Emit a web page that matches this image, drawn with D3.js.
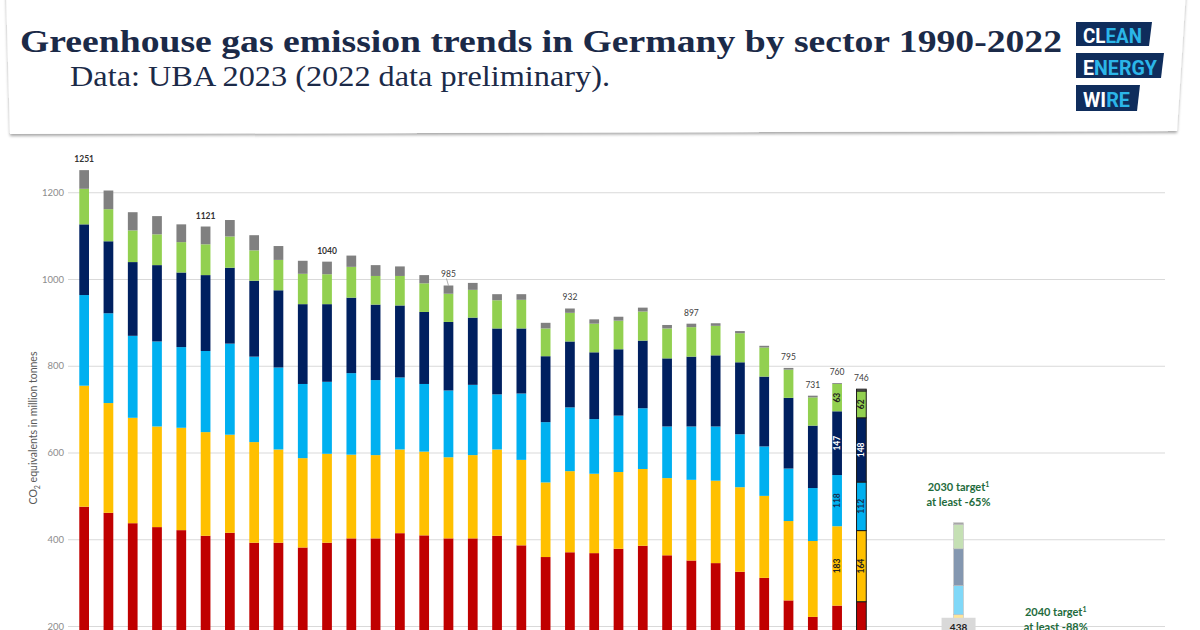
<!DOCTYPE html>
<html>
<head>
<meta charset="utf-8">
<script src="https://cdn.jsdelivr.net/npm/d3@7"></script>
<style>
  body { margin: 0; background: #fff; }
  svg { display: block; font-family: Lato, "Open Sans", sans-serif; }
</style>
</head>
<body>
<script>
// emissions in million tonnes CO2 equivalents, UBA 2023
var years = ["1990","1991","1992","1993","1994","1995","1996","1997","1998","1999","2000",
  "2001","2002","2003","2004","2005","2006","2007","2008","2009","2010","2011","2012",
  "2013","2014","2015","2016","2017","2018","2019","2020","2021","2022"]
var energy      = [475,461,437,428,421,408,415,392,392,381,392,402,402,414,409,402,402,408,386,359,370,368,378,385,363,351,345,325,311,259,221,247,256]
var industry    = [279,253,243,232,236,239,226,232,215,206,205,193,192,193,193,187,192,199,197,172,187,183,177,177,178,186,190,195,189,183,175,183,164]
var buildings   = [209,207,189,196,186,187,210,197,189,171,166,188,173,166,156,154,162,127,153,139,147,126,130,140,119,123,125,122,114,121,122,118,112]
var transport   = [163,166,170,176,172,175,175,175,178,184,179,174,174,166,166,158,155,152,150,152,152,154,153,156,157,161,164,166,161,163,144,147,148]
var agriculture = [82,74,73,71,70,71,72,70,70,70,69,71,66,68,66,65,64,65,66,64,66,66,66,67,69,68,68,67,67,65,65,63,62]
var waste       = [43,43,42,42,41,41,38,35,32,30,29,26,25,22,19,19,16,14,13,13,10,10,9,9,8,8,6,5,4,4,4,2,4]

// sector targets (Climate Protection Act)
var target2030 = [108,118,67,85,56,4]
var target2040 = 150

// x slots: years, then gaps and target years
var slots = years.concat(["","","","2030","","","","2040","","","","2045"])
var yTicks = [200,400,600,800,1000,1200]
var totalLabelYears = ["1990","1995","2000","2005","2010","2015","2019","2020","2021","2022"]
var boldTotalYears = ["1990","1995","2000"]
var segmentLabelYears = ["2021","2022"]

var keys = ["energy","industry","buildings","transport","agriculture","waste"]
var colors = {
  energy: "#C00000", industry: "#FFC000", buildings: "#00B0F0",
  transport: "#002060", agriculture: "#92D050", waste: "#808080"
}
var targetColors = {
  energy: "#E08080", industry: "#FFE699", buildings: "#80D8F8",
  transport: "#8497B0", agriculture: "#C5E0B4", waste: "#A6A6A6"
}

var svg = d3.select("body").append("svg")
  .attr("width", 1200)
  .attr("height", 630)

var defs = svg.append("defs")
var shadow = defs.append("filter").attr("id", "shadow")
  .attr("x", "-5%").attr("y", "-20%").attr("width", "110%").attr("height", "150%")
shadow.append("feDropShadow")
  .attr("dx", 0).attr("dy", 2).attr("stdDeviation", 1.6)
  .attr("flood-color", "#000").attr("flood-opacity", 0.35)

svg.append("rect").attr("width", 1200).attr("height", 630).attr("fill", "#fff")

// header card
svg.append("polygon")
  .attr("points", "6,-10 1186,-10 1177,131 10,134")
  .attr("fill", "#fff")
  .attr("filter", "url(#shadow)")

svg.append("text")
  .attr("x", 20).attr("y", 52)
  .attr("font-family", "'Liberation Serif', 'DejaVu Serif', serif")
  .attr("font-weight", "bold")
  .attr("font-size", 32)
  .attr("fill", "#1b2a48")
  .attr("textLength", 1042)
  .attr("lengthAdjust", "spacingAndGlyphs")
  .text("Greenhouse gas emission trends in Germany by sector 1990-2022")

svg.append("text")
  .attr("x", 70).attr("y", 86)
  .attr("font-family", "'Liberation Serif', 'DejaVu Serif', serif")
  .attr("font-size", 29)
  .attr("fill", "#1b2a48")
  .attr("textLength", 540)
  .attr("lengthAdjust", "spacingAndGlyphs")
  .text("Data: UBA 2023 (2022 data preliminary).")

// logo
var logo = [
  { pts: "1076,22 1152,22 1149,46 1076,46", y: 43, w: 59, a: "CL", b: "EAN" },
  { pts: "1076,53 1164,53 1161,78 1076,78", y: 75, w: 74, a: "E", b: "NERGY" },
  { pts: "1076,85 1140,85 1137,111 1076,111", y: 107, w: 47, a: "WI", b: "RE" }
]
var logoG = svg.append("g")
logoG.selectAll("polygon").data(logo).join("polygon")
  .attr("points", function(d) { return d.pts })
  .attr("fill", "#0f2d5c")
var logoText = logoG.selectAll("text").data(logo).join("text")
  .attr("x", 1083)
  .attr("y", function(d) { return d.y })
  .attr("font-family", "Roboto, 'Open Sans', sans-serif")
  .attr("font-weight", "bold")
  .attr("font-size", 20)
  .attr("textLength", function(d) { return d.w })
  .attr("lengthAdjust", "spacingAndGlyphs")
logoText.append("tspan").attr("fill", "#fff").text(function(d) { return d.a })
logoText.append("tspan").attr("fill", "#2bb5e8").text(function(d) { return d.b })

// scales
var x = d3.scaleBand()
  .domain(d3.range(slots.length))
  .range([72, 1165])
  .paddingInner(0.6)
  .paddingOuter(0.3)

var y = d3.scaleLinear()
  .domain([0, 1200])
  .range([712.75, 192.25])

// y axis with gridlines
var yAxis = svg.append("g")
  .attr("transform", "translate(68,0)")
  .call(d3.axisLeft(y).tickValues(yTicks).tickSize(-(1165 - 68)).tickPadding(4).tickFormat(d3.format("d")))
yAxis.select(".domain").remove()
yAxis.selectAll(".tick line").attr("stroke", "#d9d9d9").attr("stroke-width", 1.2)
yAxis.selectAll(".tick text")
  .attr("fill", "#8c8c8c")
  .attr("font-size", 9.5)
  .attr("font-family", "Lato, sans-serif")

svg.append("text")
  .attr("transform", "translate(37,428) rotate(-90)")
  .attr("text-anchor", "middle")
  .attr("font-size", 10.5)
  .attr("fill", "#595959")
  .call(function(t) {
    t.append("tspan").text("CO")
    t.append("tspan").attr("font-size", 7).attr("dy", 2.5).text("2")
    t.append("tspan").attr("dy", -2.5).text(" equivalents in million tonnes")
  })

// stacked bars
var rows = years.map(function(yr, i) {
  return {
    slot: i, year: yr,
    energy: energy[i], industry: industry[i], buildings: buildings[i],
    transport: transport[i], agriculture: agriculture[i], waste: waste[i]
  }
})
var series = d3.stack().keys(keys)(rows)

svg.append("g").selectAll("g.sector")
  .data(series)
  .join("g")
    .attr("class", "sector")
    .attr("fill", function(d) { return colors[d.key] })
  .selectAll("rect")
  .data(function(d) { return d })
  .join("rect")
    .attr("x", function(d) { return x(d.data.slot) })
    .attr("y", function(d) { return y(d[1]) })
    .attr("width", x.bandwidth())
    .attr("height", function(d) { return y(d[0]) - y(d[1]) })
    .attr("stroke", function(d) { return d.data.year === "2022" ? "#1a1a1a" : null })
    .attr("stroke-width", 1)

// 2030 target bar
var targetRow = { slot: slots.indexOf("2030") }
keys.forEach(function(k, i) { targetRow[k] = target2030[i] })
var targetSeries = d3.stack().keys(keys)([targetRow])
svg.append("g").selectAll("rect")
  .data(targetSeries)
  .join("rect")
    .attr("fill", function(d) { return targetColors[d.key] })
    .attr("x", function(d) { return x(d[0].data.slot) })
    .attr("y", function(d) { return y(d[0][1]) })
    .attr("width", x.bandwidth())
    .attr("height", function(d) { return y(d[0][0]) - y(d[0][1]) })
    .attr("stroke", "#bfbfbf")
    .attr("stroke-width", 0.6)

// 2040 target bar
var slot2040 = slots.indexOf("2040")
svg.append("rect")
  .attr("x", x(slot2040))
  .attr("y", y(target2040))
  .attr("width", x.bandwidth())
  .attr("height", y(0) - y(target2040))
  .attr("fill", "#c9c9c9")

// total labels
var totals = rows.map(function(r) { return d3.sum(keys, function(k) { return r[k] }) })
var labelled = rows.filter(function(r) { return totalLabelYears.indexOf(r.year) >= 0 })
svg.append("g").selectAll("text")
  .data(labelled)
  .join("text")
    .attr("x", function(d) { return x(d.slot) + x.bandwidth() / 2 })
    .attr("y", function(d) { return y(totals[d.slot]) - (d.year === "2005" ? 9 : 8) })
    .attr("text-anchor", "middle")
    .attr("font-size", 8.5)
    .attr("font-weight", function(d) { return boldTotalYears.indexOf(d.year) >= 0 ? "bold" : "normal" })
    .attr("fill", function(d) { return boldTotalYears.indexOf(d.year) >= 0 ? "#333" : "#404040" })
    .text(function(d) { return totals[d.slot] })

// leader line for 2005
var slot2005 = years.indexOf("2005")
svg.append("line")
  .attr("x1", x(slot2005) + x.bandwidth() / 2 - 2)
  .attr("y1", y(totals[slot2005]) - 7)
  .attr("x2", x(slot2005) + x.bandwidth() / 2)
  .attr("y2", y(totals[slot2005]))
  .attr("stroke", "#8c8c8c")
  .attr("stroke-width", 0.7)

// segment labels on the last two years
var segKeys = ["industry","buildings","transport","agriculture"]
var segColors = { industry: "#222", buildings: "#1a2f4f", transport: "#fff", agriculture: "#222" }
var segData = []
series.forEach(function(s) {
  if (segKeys.indexOf(s.key) < 0) return
  s.forEach(function(d) {
    if (segmentLabelYears.indexOf(d.data.year) >= 0) segData.push({ key: s.key, d: d })
  })
})
svg.append("g").selectAll("text")
  .data(segData)
  .join("text")
    .attr("transform", function(e) {
      var cx = x(e.d.data.slot) + x.bandwidth() / 2 + 3
      var cy = y((e.d[0] + e.d[1]) / 2)
      return "translate(" + cx + "," + cy + ") rotate(-90)"
    })
    .attr("text-anchor", "middle")
    .attr("font-size", 8.5)
    .attr("font-weight", "bold")
    .attr("fill", function(e) { return segColors[e.key] })
    .text(function(e) { return e.d[1] - e.d[0] })

// target annotations
var slot2030 = slots.indexOf("2030")
var total2030 = d3.sum(target2030)
var notes = [
  { slot: slot2030, top: total2030, l1: "2030 target", l2: "at least -65%" },
  { slot: slot2040, top: target2040, l1: "2040 target", l2: "at least -88%" }
]
var noteText = svg.append("g").selectAll("text")
  .data(notes)
  .join("text")
    .attr("text-anchor", "middle")
    .attr("font-size", 11)
    .attr("font-weight", "bold")
    .attr("fill", "#1e6b3c")
noteText.append("tspan")
  .attr("x", function(d) { return x(d.slot) + x.bandwidth() / 2 })
  .attr("y", function(d) { return y(d.top) - 32 })
  .text(function(d) { return d.l1 })
noteText.append("tspan")
  .attr("font-size", 7)
  .attr("dy", -4)
  .text("1")
noteText.append("tspan")
  .attr("x", function(d) { return x(d.slot) + x.bandwidth() / 2 })
  .attr("y", function(d) { return y(d.top) - 17 })
  .text(function(d) { return d.l2 })

// 2030 total box
var boxX = x(slot2030) + x.bandwidth() / 2
svg.append("rect")
  .attr("x", boxX - 17)
  .attr("y", y(total2030) + 95)
  .attr("width", 34)
  .attr("height", 22)
  .attr("fill", "#d9d9d9")
svg.append("text")
  .attr("x", boxX)
  .attr("y", y(total2030) + 108)
  .attr("text-anchor", "middle")
  .attr("font-size", 10)
  .attr("font-weight", "bold")
  .attr("fill", "#222")
  .text(total2030)
</script>
</body>
</html>
